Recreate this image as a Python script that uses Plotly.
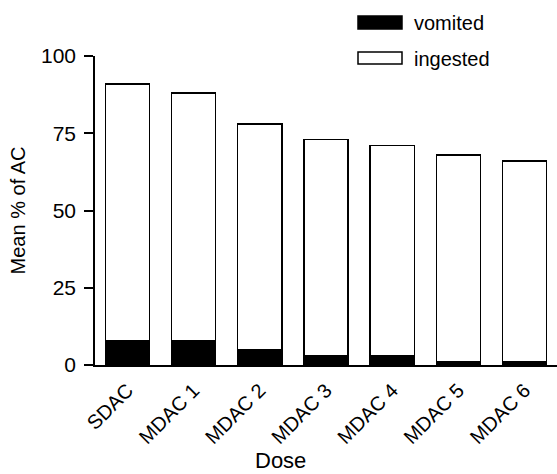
import plotly.graph_objects as go

categories = ["SDAC", "MDAC 1", "MDAC 2", "MDAC 3", "MDAC 4", "MDAC 5", "MDAC 6"]
vomited = [8, 8, 5, 3, 3, 1, 1]
total = [91, 88, 78, 73, 71, 68, 66]
ingested = [t - v for t, v in zip(total, vomited)]
y_ticks = [0, 25, 50, 75, 100]

W, H = 557, 474
L, R, T, B = 95, 0, 56, 109
FONT = "Liberation Sans, Arial, sans-serif"

def px_x(x):
    return (x - L) / (W - L - R)

def px_y(y):
    return (H - B - y) / (H - T - B)

fig = go.Figure()
fig.add_trace(go.Bar(x=categories, y=vomited, name="vomited",
                     marker=dict(color="black", line=dict(color="black", width=1.5)),
                     showlegend=False))
fig.add_trace(go.Bar(x=categories, y=ingested, name="ingested",
                     marker=dict(color="white", line=dict(color="black", width=1.5)),
                     showlegend=False))

# manual legend
legend_items = [("vomited", "black", 16, 29), ("ingested", "white", 52, 64)]
for label, color, y0, y1 in legend_items:
    fig.add_shape(type="rect", xref="paper", yref="paper",
                  x0=px_x(358), x1=px_x(402), y0=px_y(y1), y1=px_y(y0),
                  fillcolor=color, line=dict(color="black", width=1.5))
    fig.add_annotation(text=label, xref="paper", yref="paper",
                       x=px_x(412), y=px_y((y0 + y1) / 2 + 1), xanchor="left", yanchor="middle",
                       showarrow=False, font=dict(family=FONT, size=20, color="black"))

fig.add_annotation(text="Dose", xref="paper", yref="paper",
                   x=px_x(280), y=px_y(474), xanchor="center", yanchor="bottom",
                   borderpad=0, showarrow=False,
                   font=dict(family=FONT, size=22, color="black"))

fig.update_layout(
    width=W, height=H,
    margin=dict(l=L, r=R, t=T, b=B),
    barmode="stack",
    bargap=0.333,
    plot_bgcolor="white", paper_bgcolor="white",
    font=dict(family=FONT, size=21, color="black"),
)
fig.update_xaxes(range=[-0.49, 6.49], showline=True, linecolor="black", linewidth=1.5,
                 ticks="", tickangle=-45, tickfont=dict(size=20), ticklabelstandoff=4,
                 showgrid=False)
fig.update_yaxes(range=[0, 100], tickvals=y_ticks, showline=True, linecolor="black",
                 linewidth=1.5, ticks="outside", ticklen=9, tickwidth=1.5, tickcolor="black",
                 tickfont=dict(size=21), ticklabelstandoff=4,
                 showgrid=False, zeroline=False,
                 title=dict(text="Mean % of AC", standoff=10, font=dict(size=20)))

fig.write_html("out.html")
